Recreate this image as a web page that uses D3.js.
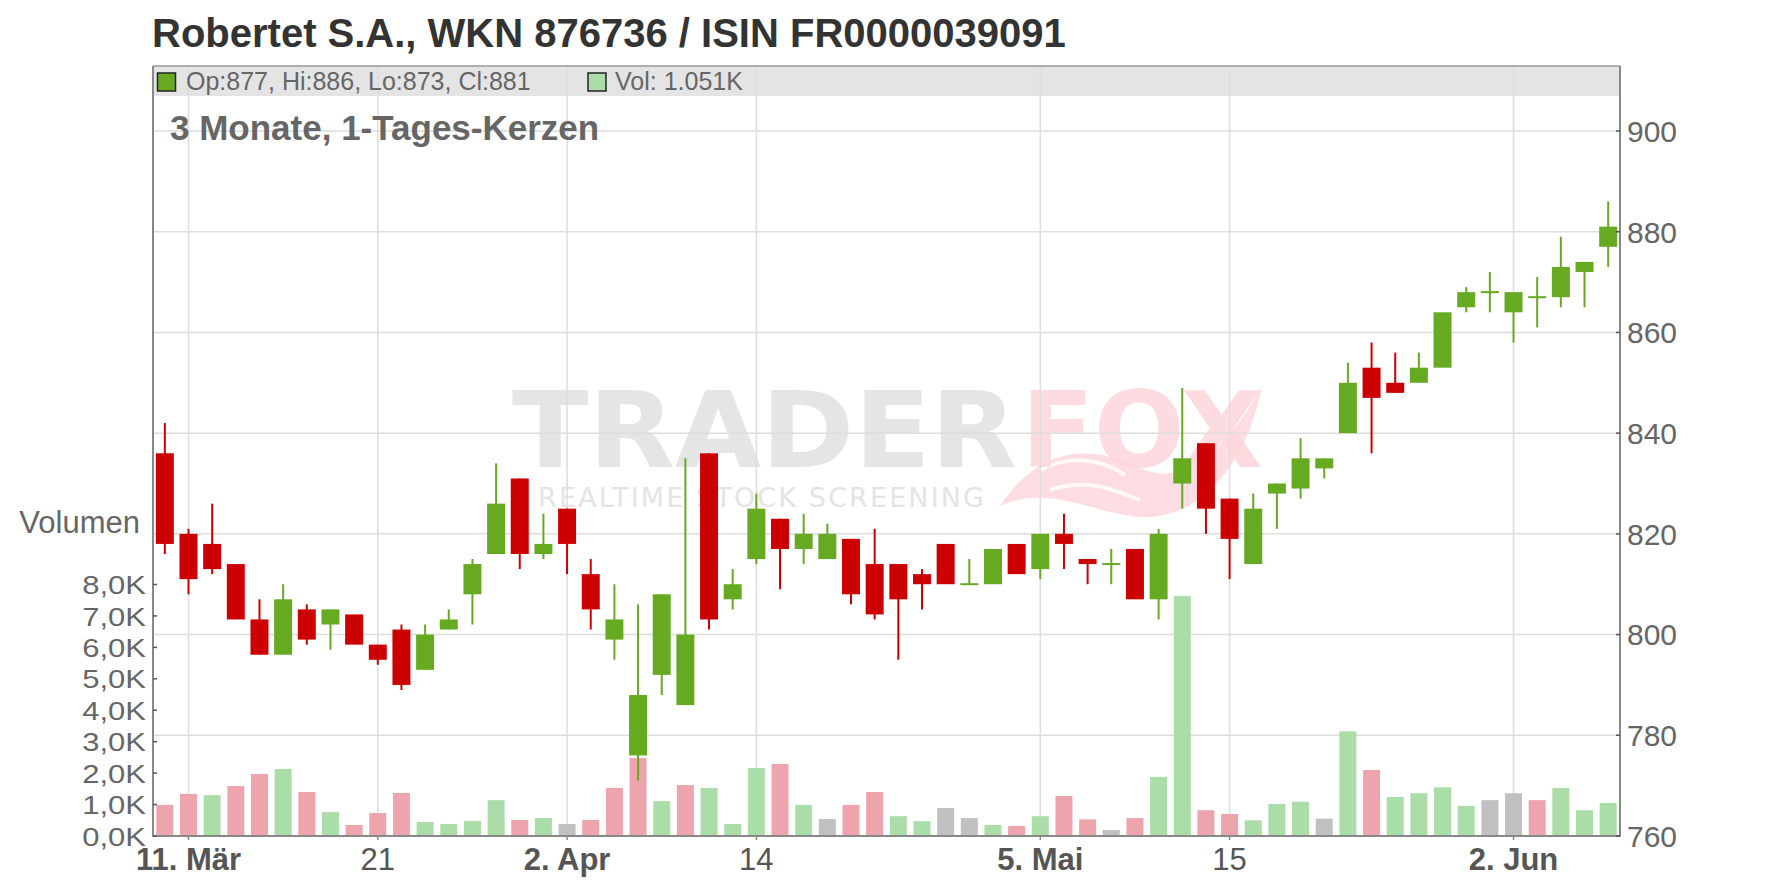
<!DOCTYPE html>
<html>
<head>
<meta charset="utf-8">
<script src="https://cdn.jsdelivr.net/npm/d3@7/dist/d3.min.js"></script>
<style>
  html, body { margin: 0; padding: 0; background: #fff; }
  svg { display: block; }
  text { font-family: "Liberation Sans", Arial, sans-serif; }
</style>
</head>
<body>
<svg id="chart" width="1776" height="888"></svg>
<script>
// ---------------- DATA ----------------
const dates = [
  "2025-03-10","2025-03-11","2025-03-12","2025-03-13","2025-03-14","2025-03-17","2025-03-18","2025-03-19","2025-03-20","2025-03-21",
  "2025-03-24","2025-03-25","2025-03-26","2025-03-27","2025-03-28","2025-03-31","2025-04-01","2025-04-02","2025-04-03","2025-04-04",
  "2025-04-07","2025-04-08","2025-04-09","2025-04-10","2025-04-11","2025-04-14","2025-04-15","2025-04-16","2025-04-17","2025-04-22",
  "2025-04-23","2025-04-24","2025-04-25","2025-04-28","2025-04-29","2025-04-30","2025-05-02","2025-05-05","2025-05-06","2025-05-07",
  "2025-05-08","2025-05-09","2025-05-12","2025-05-13","2025-05-14","2025-05-15","2025-05-16","2025-05-19","2025-05-20","2025-05-21",
  "2025-05-22","2025-05-23","2025-05-26","2025-05-27","2025-05-28","2025-05-29","2025-05-30","2025-06-02","2025-06-03","2025-06-04",
  "2025-06-05","2025-06-06"
];
const openP  = [836,820,818,814,803,796,805,802,804,798, 801,793,801,808,816,831,816,825,812,799, 776,792,786,836,807,815,823,817,815,819, 814,814,812,818,810,810,818,813,820,815, 814,817,807,830,838,827,814,828,829,833, 840,853,850,850,853,865,868,864,867,867, 872,877];
const highP  = [842,821,826,814,807,810,806,805,804,798, 802,802,805,815,834,831,824,825,815,810, 806,808,835,836,813,828,823,824,822,819, 821,814,813,818,815,817,818,820,824,815, 817,817,821,849,838,827,828,830,839,835, 854,858,856,856,864,869,872,868,871,879, 874,886];
const lowP   = [816,808,812,803,796,796,798,797,798,794, 789,793,801,802,816,813,815,812,801,795, 771,788,786,801,805,814,809,814,815,806, 803,795,805,810,810,810,812,811,813,810, 810,807,803,825,820,811,814,821,827,831, 840,836,848,850,853,864,864,858,861,865, 865,873];
const closeP = [818,811,813,803,796,807,799,805,798,795, 790,800,803,814,826,816,818,818,805,803, 788,808,800,803,810,825,817,820,820,808, 804,807,810,810,810,817,812,820,818,814, 814,807,820,835,825,819,825,830,835,835, 850,847,848,853,864,868,868,868,867,873, 874,881];
const volume = [990,1340,1300,1590,1970,2130,1400,760,350,730, 1370,450,380,480,1140,510,570,380,510,1530, 2480,1110,1620,1530,380,2160,2290,990,540,990, 1400,630,470,890,570,350,320,630,1270,530, 190,570,1880,7630,820,700,500,1020,1090,550, 3330,2100,1240,1360,1550,960,1140,1360,1140,1530, 820,1051];

const tickDates  = ["2025-03-11","2025-03-21","2025-04-02","2025-04-14","2025-05-05","2025-05-15","2025-06-02"];
const tickLabels = ["11. Mär","21","2. Apr","14","5. Mai","15","2. Jun"];
const tickBold   = [true,false,true,false,true,false,true];
const priceTicks = [760,780,800,820,840,860,880,900];
const volTicks   = [0,1000,2000,3000,4000,5000,6000,7000,8000];

const titleText = "Robertet S.A., WKN 876736 / ISIN FR0000039091";
const subtitleText = "3 Monate, 1-Tages-Kerzen";
const legendOHLC = "Op:877, Hi:886, Lo:873, Cl:881";
const legendVol = "Vol: 1.051K";

// ---------------- LAYOUT ----------------
const L = 153, R = 1620, T = 66, B = 836;
const bandBottom = 96;
const C_UP = "#66aa22", C_DN = "#cc0000";
const V_UP = "#aadda8", V_DN = "#eea4ac", V_EQ = "#c0c0c0";
const GRID = "#dddddd", AXIS = "#888888", TXT = "#666666";
const AXFS = "31px";

const svg = d3.select("#chart");
svg.append("rect").attr("width",1776).attr("height",888).attr("fill","#fff");

const x = d3.scaleBand().domain(dates).range([L, R]).paddingInner(0.24).paddingOuter(0.12);
const y = d3.scaleLinear().domain([760, 900]).range([B, 131]);
const yv = d3.scaleLinear().domain([0, 8000]).range([B, 584.5]);

// Header band
svg.append("rect").attr("x", L).attr("y", T).attr("width", R - L).attr("height", bandBottom - T).attr("fill", "#e4e4e4");

// Watermark
const wm = svg.append("g").attr("class","watermark");
wm.append("text").attr("x", 512).attr("y", 467).attr("textLength", 505).attr("lengthAdjust","spacingAndGlyphs")
  .style("font-family","'DejaVu Sans', sans-serif").style("font-weight","bold").style("font-size","106px")
  .attr("fill","#e1e1e1").attr("opacity",0.85).text("TRADER");
wm.append("path")
  .attr("d","M1000,506 C1035,452 1085,440 1140,468 C1185,490 1230,445 1262,386 C1246,468 1196,526 1130,516 C1082,508 1045,486 1000,506 Z")
  .attr("fill","#fdd7dc").attr("opacity",0.85);
wm.append("path")
  .attr("d","M1040,470 C1070,455 1100,458 1125,475 M1050,490 C1085,478 1110,488 1140,500")
  .attr("fill","none").attr("stroke","#fff").attr("stroke-width",4).attr("opacity",0.8);
wm.append("text").attr("x", 1021).attr("y", 467).attr("textLength", 242).attr("lengthAdjust","spacingAndGlyphs")
  .style("font-family","'DejaVu Sans', sans-serif").style("font-weight","bold").style("font-size","106px")
  .attr("fill","#fdd7dc").attr("opacity",0.85).text("FOX");
wm.append("text").attr("x", 538).attr("y", 507).attr("textLength", 446).attr("lengthAdjust","spacing")
  .style("font-family","'DejaVu Sans', sans-serif").style("font-size","27px")
  .attr("fill","#e4e4e4").text("REALTIME STOCK SCREENING");

// Grid
const gGrid = svg.append("g");
priceTicks.filter(p => p > 760).forEach(p => {
  gGrid.append("line").attr("x1", L).attr("x2", R).attr("y1", y(p)).attr("y2", y(p))
    .attr("stroke", GRID).attr("stroke-width", 1.5);
});
tickDates.forEach(d => {
  const cx = x(d) + x.bandwidth() / 2;
  gGrid.append("line").attr("x1", cx).attr("x2", cx).attr("y1", T).attr("y2", B)
    .attr("stroke", GRID).attr("stroke-width", 1.5);
});

// Volume bars
const gVol = svg.append("g");
dates.forEach((d, i) => {
  const prev = i === 0 ? openP[0] : closeP[i - 1];
  const col = closeP[i] > prev ? V_UP : (closeP[i] < prev ? V_DN : V_EQ);
  gVol.append("rect").attr("x", x(d) + 0.5).attr("width", x.bandwidth() - 1)
    .attr("y", yv(volume[i])).attr("height", B - yv(volume[i])).attr("fill", col);
});

// Candles
const gC = svg.append("g");
dates.forEach((d, i) => {
  const o = openP[i], h = highP[i], l = lowP[i], c = closeP[i];
  const col = c >= o ? C_UP : C_DN;
  const cx = x(d) + x.bandwidth() / 2;
  if (h > Math.max(o, c) || l < Math.min(o, c)) {
    gC.append("line").attr("x1", cx).attr("x2", cx).attr("y1", y(h)).attr("y2", y(l))
      .attr("stroke", col).attr("stroke-width", 2);
  }
  const top = y(Math.max(o, c)), bot = y(Math.min(o, c));
  if (bot - top < 2) {
    gC.append("rect").attr("x", x(d)).attr("width", x.bandwidth()).attr("y", top - 1).attr("height", 2).attr("fill", col);
  } else {
    gC.append("rect").attr("x", x(d)).attr("width", x.bandwidth()).attr("y", top).attr("height", bot - top).attr("fill", col);
  }
});

// Axes lines
const gA = svg.append("g");
gA.append("line").attr("x1", L).attr("x2", R).attr("y1", T).attr("y2", T).attr("stroke", "#999").attr("stroke-width", 1.5);
gA.append("line").attr("x1", L).attr("x2", L).attr("y1", T).attr("y2", B + 1).attr("stroke", AXIS).attr("stroke-width", 2);
gA.append("line").attr("x1", R).attr("x2", R).attr("y1", T).attr("y2", B + 1).attr("stroke", AXIS).attr("stroke-width", 2);
gA.append("line").attr("x1", L).attr("x2", R).attr("y1", B).attr("y2", B).attr("stroke", AXIS).attr("stroke-width", 2);

// Right price axis
priceTicks.forEach(p => {
  gA.append("line").attr("x1", R - 4).attr("x2", R).attr("y1", y(p)).attr("y2", y(p)).attr("stroke", "#555").attr("stroke-width", 1.5);
  gA.append("text").attr("x", 1627).attr("y", y(p)).attr("dy", "0.36em")
    .style("font-size", "30px").attr("fill", TXT).text(p);
});

// Left volume axis (labels narrowed vertically so stacked labels do not collide)
volTicks.forEach(v => {
  gA.append("line").attr("x1", L).attr("x2", L + 4).attr("y1", yv(v)).attr("y2", yv(v)).attr("stroke", "#555").attr("stroke-width", 1.5);
  const t = gA.append("text").attr("x", 146).attr("y", yv(v)).attr("text-anchor", "end")
    .style("font-size", AXFS).attr("fill", TXT).text((v / 1000).toFixed(1).replace(".", ",") + "K");
  const w = t.node().getComputedTextLength();
  t.style("font-size", "26px").attr("dy", "0.37em")
    .attr("textLength", w).attr("lengthAdjust", "spacingAndGlyphs");
});
gA.append("text").attr("x", 140).attr("y", 533).attr("text-anchor", "end")
  .style("font-size", AXFS).attr("fill", TXT).text("Volumen");

// X axis labels
tickDates.forEach((d, k) => {
  const cx = x(d) + x.bandwidth() / 2;
  gA.append("line").attr("x1", cx).attr("x2", cx).attr("y1", B).attr("y2", B + 4).attr("stroke", AXIS).attr("stroke-width", 1.5);
  gA.append("text").attr("x", cx).attr("y", 870).attr("text-anchor", "middle")
    .style("font-size", AXFS).style("font-weight", tickBold[k] ? "bold" : "normal")
    .attr("fill", "#555").text(tickLabels[k]);
});

// Title, legend, subtitle
svg.append("text").attr("x", 152).attr("y", 47).style("font-size", "40px").style("font-weight", "bold")
  .attr("fill", "#333").text(titleText);
svg.append("rect").attr("x", 157.5).attr("y", 73).attr("width", 18).attr("height", 18).attr("fill", C_UP).attr("stroke", "#222").attr("stroke-width", 1.5);
svg.append("text").attr("x", 186).attr("y", 90).style("font-size", "25px").attr("fill", TXT).text(legendOHLC);
svg.append("rect").attr("x", 588).attr("y", 73).attr("width", 18).attr("height", 18).attr("fill", V_UP).attr("stroke", "#222").attr("stroke-width", 1.5);
svg.append("text").attr("x", 615).attr("y", 90).style("font-size", "25px").attr("fill", TXT).text(legendVol);
svg.append("text").attr("x", 170).attr("y", 140).style("font-size", "35px").style("font-weight", "bold")
  .attr("fill", TXT).text(subtitleText);
</script>
</body>
</html>
